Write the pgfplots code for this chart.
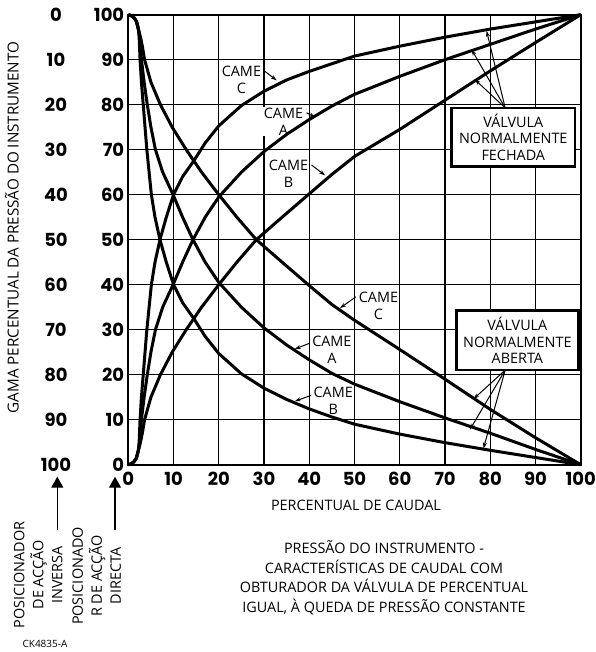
\documentclass[border=0pt]{standalone}
\usepackage{pgfplots}
\pgfplotsset{compat=1.18}
\usepackage{fontspec}
\setmainfont{Open Sans}
\newfontfamily\tickfont{Poppins}
\usetikzlibrary{arrows.meta}
\newcommand\tfont{\tickfont\bfseries\fontsize{9}{9}\selectfont}
\newcommand\lfont{\fontsize{7.2}{8.3}\selectfont}
\tikzset{
 curve/.style={black, line width=1.5pt, mark=none, line join=round},
 lead/.style={line width=0.5pt, -{Stealth[length=3pt,width=2pt]}},
 came/.style={font=\lfont, align=center, fill=white, inner sep=0.4pt},
}
\begin{document}
\begin{tikzpicture}[x=1pt,y=1pt]
\useasboundingbox (-64.15,-93.65) rectangle (233.35,232.35);
\begin{axis}[
 at={(0,0)}, anchor=south west,
 scale only axis, width=226.2pt, height=225pt,
 xmin=0,xmax=100,ymin=0,ymax=100,
 xtick={0,10,...,100}, ytick={0,10,...,100},
 xticklabels={0,10,20,30,40,50,60,70,80,90,100},
 yticklabels={0,10,20,30,40,50,60,70,80,90,100},
 grid=major, major grid style={draw=black, line width=0.6pt},
 axis line style={line width=0.9pt},
 major tick length=0pt,
 /pgf/number format/assume math mode=true,
 ticklabel style={font=\tfont},
 yticklabel style={xshift=1.5pt},
 clip=false,
]
% --- CAME labels (under the curves) ---
\node[came] at (axis cs:25,85.5) {CAME\\C};
\node[came] at (axis cs:34.3,76.2) {CAME\\A};
\node[came] at (axis cs:35.4,64.6) {CAME\\B};
\node[came] at (axis cs:55.3,35.3) {CAME\\C};
\node[came] at (axis cs:45,25.6) {CAME\\A};
\node[came] at (axis cs:45.3,14.2) {CAME\\B};
\draw[lead] (axis cs:30.2,87.4) -- (axis cs:32.8,85.4);
\draw[lead] (axis cs:39.4,78.2) -- (axis cs:41.3,77.2);
\draw[lead] (axis cs:40.5,66.6) -- (axis cs:43.5,64.3);
\draw[lead] (axis cs:50.3,37.3) -- (axis cs:46.8,34.8);
\draw[lead] (axis cs:40.1,27) -- (axis cs:36.8,25.7);
\draw[lead] (axis cs:40.4,15.4) -- (axis cs:36.8,14.1);
% --- boxes ---
\draw[line width=1.3pt, fill=white] (axis cs:71.5,66.2) rectangle (axis cs:98.7,79.3);
\node[font=\lfont, align=center] at (axis cs:85.1,72.75) {VÁLVULA\\NORMALMENTE\\FECHADA};
\draw[line width=1.3pt, fill=white] (axis cs:72.5,21) rectangle (axis cs:99.5,34.2);
\node[font=\lfont, align=center] at (axis cs:86,27.6) {VÁLVULA\\NORMALMENTE\\ABERTA};
\draw[lead] (axis cs:83.3,79.3) -- (axis cs:79.2,96.4);
\draw[lead] (axis cs:83.3,79.3) -- (axis cs:75.9,92.2);
\draw[lead] (axis cs:83.3,79.3) -- (axis cs:76.6,85.6);
\draw[lead] (axis cs:83.3,21) -- (axis cs:76.3,14.6);
\draw[lead] (axis cs:83.3,21) -- (axis cs:75.5,7.8);
\draw[lead] (axis cs:83.3,21) -- (axis cs:78.5,3.6);
% --- normally closed (rising) ---
\addplot[curve] coordinates {(0,0)(0.6,0.2)(1.2,0.6)(1.8,1.5)(2.2,3)(2.4,5)(2.6,10)(2.9,15)(3.3,20)(3.7,25)(4.1,30)(4.6,35)(5.1,40)(5.9,45)(7,50)(8.4,55)(10,60)(12,64)(14.4,67.4)(17,71.5)(20,75.3)(25,79.8)(30,83)(35,85.5)(40,87.4)(45,89.1)(50,90.8)(60,93)(70,95)(80,96.8)(90,98.4)(100,100)};
\addplot[curve] coordinates {(0,0)(0.6,0.2)(1.2,0.6)(1.8,1.5)(2.3,3.5)(2.6,6)(2.9,10)(3.5,15)(4.2,20)(5,25)(6,30)(7.6,35)(9.9,40)(12,45)(14.3,50)(17,55)(20,59.5)(25,65)(30,69.6)(35,73.4)(40,76.7)(45,79.7)(50,82.3)(60,86.3)(70,90)(80,93.4)(90,96.8)(100,100)};
\addplot[curve] coordinates {(0,0)(0.6,0.2)(1.2,0.6)(1.8,1.5)(2.3,3.5)(2.7,5)(3.1,7)(3.6,10)(5,15)(7.1,20)(9.7,25)(12.8,30)(16.2,35)(20,40)(24,45)(28.3,50)(34,55)(40,60.2)(45,64.5)(50,68.5)(60,74.5)(70,81)(80,87.5)(90,93.8)(100,100)};
% --- normally open (falling) ---
\addplot[curve] coordinates {(0,100)(0.6,99.8)(1.2,99.4)(1.8,98.5)(2.2,97)(2.4,95)(2.6,90)(2.9,85)(3.3,80)(3.7,75)(4.1,70)(4.6,65)(5.1,60)(5.9,55)(7,50)(8.4,45)(10,40)(12,36)(14.4,32.6)(17,28.5)(20,24.7)(25,20.2)(30,17)(35,14.5)(40,12.4)(45,10.6)(50,9)(60,6.8)(70,4.9)(80,3.2)(90,1.6)(100,0)};
\addplot[curve] coordinates {(0,100)(0.6,99.8)(1.2,99.4)(1.8,98.5)(2.3,96.5)(2.6,94)(2.9,90)(3.5,85)(4.2,80)(5,75)(6,70)(7.6,65)(9.9,60)(12,55)(14.3,50)(17,45)(20,40.5)(25,35)(30,30.4)(35,26.6)(40,23.3)(45,20.3)(50,17.9)(60,14)(70,10.4)(80,7)(90,3.4)(100,0)};
\addplot[curve] coordinates {(0,100)(0.6,99.8)(1.2,99.4)(1.8,98.5)(2.3,96.5)(2.7,95)(3.1,93)(3.6,90)(5,85)(7.1,80)(9.7,75)(12.8,70)(16.2,65)(20,60)(24,55)(28.3,50)(34,45)(40,39.8)(45,35.6)(50,32.1)(60,25.6)(70,19)(80,12.3)(90,6)(100,0)};
\end{axis}
% outer (reverse) pressure scale
\foreach \v in {0,10,...,100} \node[font=\tfont] at (-36.15,{2.25*(100-\v)}) {\v};
% axis titles
\node[font=\fontsize{7.6}{8}\selectfont, rotate=90] at (-58.15,118.6) {GAMA PERCENTUAL DA PRESSÃO DO INSTRUMENTO};
\node[font=\lfont] at (113.85,-20.4) {PERCENTUAL DE CAUDAL};
% positioner arrows
\draw[line width=0.6pt, -{Triangle[length=5.5pt,width=6pt]}] (-35.5,-32.65) -- (-35.5,-6);
\draw[line width=0.6pt, -{Triangle[length=5.5pt,width=6pt]}] (-6.65,-32.65) -- (-6.65,-6);
\node[font=\fontsize{7.2}{9.5}\selectfont, rotate=90, align=center] at (-45,-55.15) {POSICIONADOR\\DE ACÇÃO\\INVERSA};
\node[font=\fontsize{7.2}{9.5}\selectfont, rotate=90, align=center] at (-15.8,-55.65) {POSICIONADO\\R DE ACÇÃO\\DIRECTA};
% caption
\node[font=\fontsize{7.2}{9.75}\selectfont, align=center] at (127.85,-56.65) {PRESSÃO DO INSTRUMENTO -\\CARACTERÍSTICAS DE CAUDAL COM\\OBTURADOR DA VÁLVULA DE PERCENTUAL\\IGUAL, À QUEDA DE PRESSÃO CONSTANTE};
\node[font=\fontsize{5}{5}\selectfont] at (-41.65,-89.65) {CK4835-A};
\end{tikzpicture}
\end{document}
